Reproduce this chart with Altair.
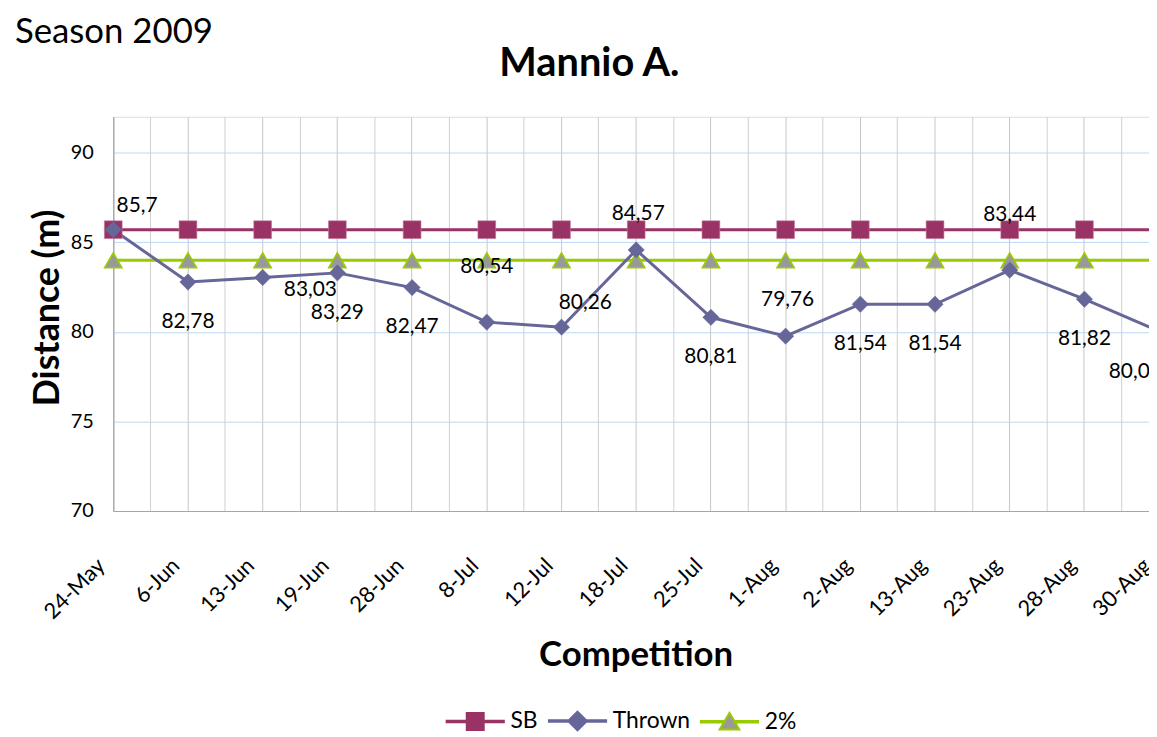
import altair as alt
import pandas as pd

# ---- data ----
dates = ["24-May", "6-Jun", "13-Jun", "19-Jun", "28-Jun", "8-Jul", "12-Jul", "18-Jul",
         "25-Jul", "1-Aug", "2-Aug", "13-Aug", "23-Aug", "28-Aug", "30-Aug"]
thrown = [85.70, 82.78, 83.03, 83.29, 82.47, 80.54, 80.26, 84.57,
          80.81, 79.76, 81.54, 81.54, 83.44, 81.82, 80.03]
sb = [85.7, 85.7, 85.7, 85.7, 85.7, 85.7, 85.7, 85.7,
      85.7, 85.7, 85.7, 85.7, 85.7, 85.7, 85.7]
two_pct = [83.99, 83.99, 83.99, 83.99, 83.99, 83.99, 83.99, 83.99,
           83.99, 83.99, 83.99, 83.99, 83.99, 83.99, 83.99]
series_names = ["SB", "Thrown", "2%"]
y_ticks = [70, 75, 80, 85, 90]

# where each "Thrown" value label sits relative to its point
label_place = ["above_right", "below", "right", "below", "below", "above_far", "above_right",
               "above", "below", "above", "below", "below", "above_far", "below", "below_left"]
place_offsets = {
    "above_right": (24, -24),
    "above": (2, -36),
    "above_far": (0, -56),
    "below": (0, 40),
    "right": (48, 13),
    "below_left": (-24, 41),
}

# ---- styles ----
C_SB, C_TH, C_2P, C_TRI = "#993366", "#666699", "#99cc00", "#999999"
FONT = "Lato"

rows = []
for name, vals in zip(series_names, [sb, thrown, two_pct]):
    for i, (d, v) in enumerate(zip(dates, vals)):
        rows.append({"series": name, "date": d, "value": v,
                     "label": f"{v:g}".replace(".", ","),
                     "place": label_place[i] if name == "Thrown" else ""})
df = pd.DataFrame(rows)

step = 75.23
x_scale = alt.Scale(type="band", domain=dates, range=[0, step * len(dates)],
                    paddingInner=0, paddingOuter=0)
y_scale = alt.Scale(domain=[70, 92], nice=False, zero=False)

y_axis = alt.Axis(values=y_ticks, grid=True, gridColor="#b9d9f7", gridWidth=1,
                  domain=True, domainColor="#a6a6a6", domainWidth=1.2, ticks=False,
                  labelPadding=20, labelFont=FONT, labelFontSize=20, labelColor="black",
                  title="Distance (m)", titleFont=FONT, titleFontSize=36,
                  titleFontWeight="bold", titleColor="black", titleX=-66, titleY=192,
                  titleBaseline="middle", titleAlign="center")
Y = alt.Y("value:Q", scale=y_scale, axis=y_axis)


def X(axis=None):
    return alt.X("date:N", scale=x_scale, bandPosition=0, axis=axis)


bottom_axis = alt.Axis(orient="bottom", bandPosition=0, grid=True, gridColor="#c6c6c6",
                       gridWidth=1, domain=True, domainColor="#a6a6a6", domainWidth=1.2,
                       ticks=False, labelAngle=-45, labelAlign="right",
                       labelBaseline="middle", labelPadding=51, labelOffset=-step / 2 - 12,
                       labelOverlap=False, labelFont=FONT, labelFontSize=22,
                       labelColor="black",
                       title="Competition", titleFont=FONT, titleFontSize=35,
                       titleFontWeight="bold", titleColor="black", titleX=526, titleY=156,
                       titleBaseline="alphabetic", titleAlign="center")
top_axis = alt.Axis(orient="top", bandPosition=0.5, grid=True, gridColor="#d0d0d0",
                    gridWidth=1, domain=False, ticks=False, labels=False,
                    title="Mannio A.", titleFont=FONT, titleFontSize=40,
                    titleFontWeight="bold", titleColor="black", titleX=479, titleY=-42,
                    titleBaseline="alphabetic", titleAlign="center")

base = alt.Chart(df)


def series_line(name, color, axis=None):
    return base.transform_filter(alt.datum.series == name).mark_line(
        strokeWidth=3, color=color).encode(x=X(axis), y=Y)


sb_line = series_line("SB", C_SB, bottom_axis)
tp_line = series_line("2%", C_2P)
th_line = series_line("Thrown", C_TH)

sb_pts = base.transform_filter(alt.datum.series == "SB").mark_point(
    shape="square", filled=True, size=320, fill=C_SB, stroke="#c07898", strokeWidth=0.6,
    opacity=1).encode(x=X(), y=Y)
tp_pts = base.transform_filter(alt.datum.series == "2%").mark_point(
    shape="triangle-up", filled=True, size=300, fill=C_TRI, stroke=C_2P, strokeWidth=1.6,
    opacity=1).encode(x=X(), y=Y)
th_pts = base.transform_filter(alt.datum.series == "Thrown").mark_point(
    shape="diamond", filled=True, size=270, fill=C_TH, stroke=C_TH, strokeWidth=0.5,
    opacity=1).encode(x=X(), y=Y)

label_layers = []
for place, (dx, dy) in place_offsets.items():
    label_layers.append(
        base.transform_filter(alt.datum.place == place).mark_text(
            font=FONT, fontSize=21, color="black", dx=dx, dy=dy,
            align="center", baseline="middle").encode(x=X(), y=Y, text="label:N"))

# legend symbols: line with marker (path units: 1 = half the symbol size)
seg = "M-3.2,-0.08H3.2V0.08H-3.2Z "
sym_sb = seg + "M-0.95,-0.95H0.95V0.95H-0.95Z"
sym_th = seg + "M0,-1.05L1.05,0L0,1.05L-1.05,0Z"
sym_2p = "M-3.2,-0.08H-0.6V0.08H-3.2Z M0.6,-0.08H3.2V0.08H0.6Z M0,-1L1.1,0.85H-1.1Z"

leg_kw = dict(orient="none", legendX=353, legendY=597, direction="horizontal", title=None,
              symbolSize=324, symbolStrokeWidth=2, symbolOpacity=1, labelFont=FONT,
              labelFontSize=23, labelColor="black", labelOffset=24, columnPadding=6,
              padding=0)
legend_layer = base.mark_point(filled=True, size=0, strokeWidth=2, opacity=1).encode(
    x=X(top_axis), y=Y,
    shape=alt.Shape("series:N", scale=alt.Scale(domain=series_names,
                                                 range=[sym_sb, sym_th, sym_2p]),
                    legend=alt.Legend(**leg_kw)),
    fill=alt.Fill("series:N", scale=alt.Scale(domain=series_names,
                                              range=[C_SB, C_TH, C_TRI]),
                  legend=alt.Legend(**leg_kw)),
    stroke=alt.Stroke("series:N", scale=alt.Scale(domain=series_names,
                                                  range=[C_SB, C_TH, C_2P]),
                      legend=alt.Legend(**leg_kw)),
)

chart = alt.layer(sb_line, tp_line, th_line, sb_pts, tp_pts, th_pts, *label_layers,
                  legend_layer).resolve_axis(
    x="independent"
).properties(
    width=1043, height=397,
    autosize=alt.AutoSizeParams(type="none"),
    padding={"left": 106, "top": 107, "right": 0, "bottom": 225},
    title=alt.TitleParams("Season 2009", anchor="start", frame="bounds", font=FONT,
                          fontSize=35, fontWeight="normal", color="black",
                          baseline="alphabetic", dx=-15, dy=39),
).configure_view(stroke=None).configure(background="white", font=FONT)

chart.save("out.html", embed_options={"renderer": "svg", "actions": False})
